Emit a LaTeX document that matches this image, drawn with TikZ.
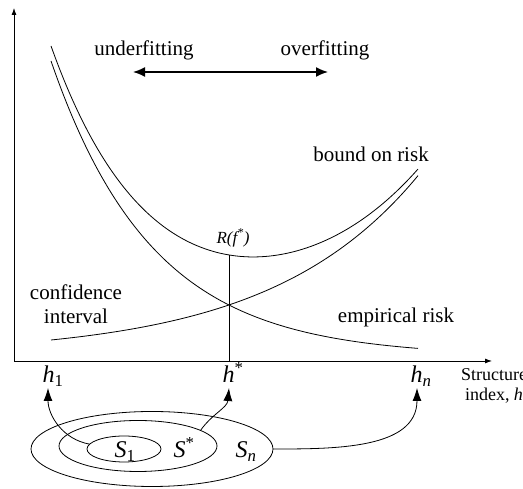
\documentclass[tikz,border=0pt]{standalone}
\usepackage{fontspec}
\setmainfont{Liberation Serif}
\usetikzlibrary{arrows.meta,shapes.geometric}

\begin{document}
\begin{tikzpicture}[x = 1pt, y = 1pt, line width = .8pt,
    lbl/.style = {font = \fontsize{21}{24}\selectfont, inner sep = 0pt},
    idx/.style = {font = \fontsize{24}{26}\selectfont, inner sep = 0pt, anchor = base},
    set/.style = {draw, ellipse, inner sep = 0pt, outer sep = 0pt},
    axis/.style = {-{Latex[length = 7pt, width = 5pt]}},
    up/.style = {-{Latex[length = 13pt, width = 9pt]}},
    declare function = {emp(\x) = 132.6 + 295.4*exp(-0.00982*(\x - 51));
                        conf(\x) = 133.9 + 15.1*exp(0.00674*(\x - 51));
                        bnd(\x) = emp(\x) + conf(\x) - 134;}]
      \useasboundingbox (0,0) rectangle (523,489);
      % axes
      \draw [axis] (14,128) -- (14,481);
      \draw [axis] (14,128) -- (492,128);
      % risk curves
      \draw plot [domain = 51:418, samples = 90, smooth] (\x, {emp(\x)});
      \draw plot [domain = 51:418, samples = 90, smooth] (\x, {conf(\x)});
      \draw plot [domain = 51:418, samples = 90, smooth] (\x, {bnd(\x)});
      \coordinate (opt) at (229,{bnd(229)});
      \coordinate (base) at (229,128);
      \draw (base) -- (opt);
      % labels
      \node [lbl] (under) at (144,439) {underfitting};
      \node [lbl] (over) at (325,439) {overfitting};
      \coordinate (fitL) at (133,417);
      \coordinate (fitR) at (328,417);
      \draw [line width = 1.6pt, {Latex[length = 12pt, width = 10pt]}-{Latex[length = 12pt, width = 10pt]}]
        (fitL) -- (fitR);
      \node [lbl] (bound) at (371,335) {bound on risk};
      \node [lbl, font = \fontsize{17}{20}\selectfont\itshape] (rf) at (233,251) {R(f\textsuperscript{*})};
      \node [lbl, align = center] (ci) at (76,185) {confidence\\interval};
      \node [lbl] (emp) at (396,172) {empirical risk};
      \node [lbl, align = center, font = \fontsize{18}{20}\selectfont] (struct) at (494,103)
        {Structure\\index, \textit{h}};
      % structure indices
      \node [idx] (h1) at (53,106) {\textit{h}\textsubscript{1}};
      \node [idx] (hs) at (233,106) {\textit{h}\textsuperscript{*}};
      \node [idx] (hn) at (421,106) {\textit{h}\textsubscript{\textit{n}}};
      \coordinate (h1in) at (48,101);
      \coordinate (hsin) at (229,101);
      \coordinate (hnin) at (417,101);
      % nested structures
      \node [set, minimum width = 242pt, minimum height = 75pt] (Sn) at (152,40) {};
      \node [set, minimum width = 158pt, minimum height = 51pt] (Ss) at (138,43) {};
      \node [set, minimum width = 74pt, minimum height = 26pt] (S1) at (124,40) {};
      \node [idx] (s1lab) at (125,31) {\textit{S}\textsubscript{1}};
      \node [idx] (sslab) at (184,31) {\textit{S}\textsuperscript{*}};
      \node [idx] (snlab) at (246,31) {\textit{S}\textsubscript{\textit{n}}};
      \draw [up] (S1.172) to [out = 170, in = -90] (h1in);
      \draw [up] (Ss.14) to [out = 55, in = -95] (hsin);
      \draw [up] (Sn.east) to [out = 0, in = -90] (hnin);
\end{tikzpicture}
\end{document}
